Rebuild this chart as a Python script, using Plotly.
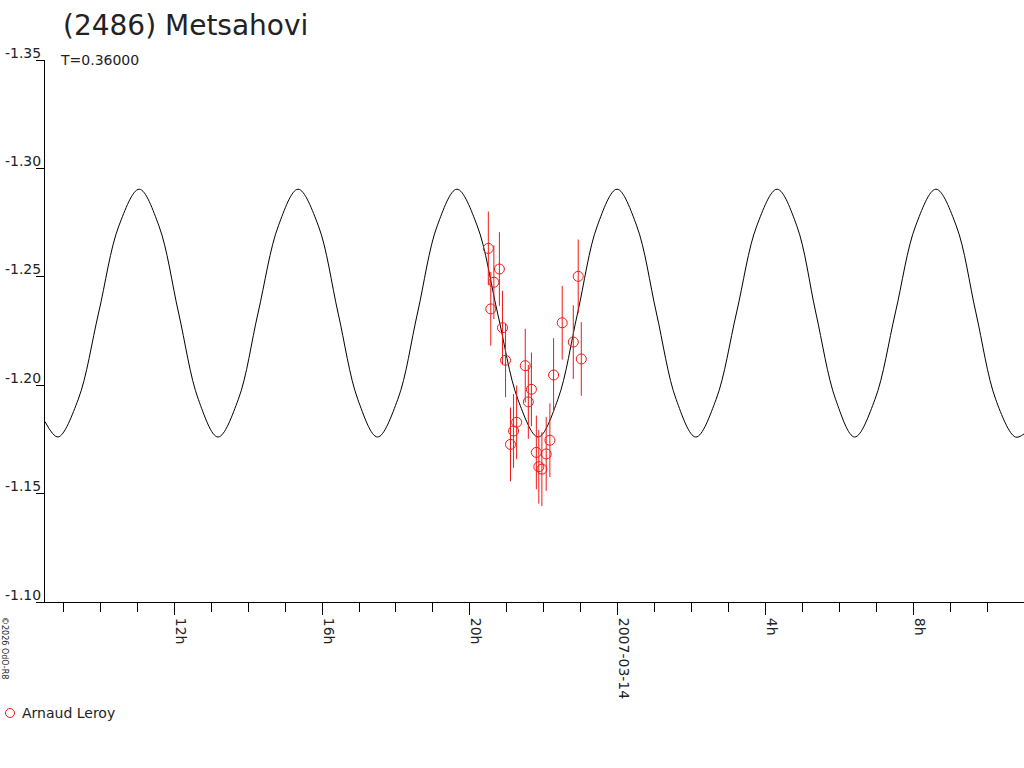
import plotly.graph_objects as go

# ---- observations (Arnaud Leroy) ----
obs_time = [
    "2007-03-13 20:30", "2007-03-13 20:34", "2007-03-13 20:39", "2007-03-13 20:48",
    "2007-03-13 20:53", "2007-03-13 20:58", "2007-03-13 21:06", "2007-03-13 21:11",
    "2007-03-13 21:16", "2007-03-13 21:30", "2007-03-13 21:35", "2007-03-13 21:40",
    "2007-03-13 21:48", "2007-03-13 21:52", "2007-03-13 21:57", "2007-03-13 22:04",
    "2007-03-13 22:10", "2007-03-13 22:16", "2007-03-13 22:30", "2007-03-13 22:48",
    "2007-03-13 22:56", "2007-03-13 23:01",
]
obs_mag = [
    -1.2631, -1.2352, -1.2475, -1.2536, -1.2265, -1.2115, -1.1727, -1.1789,
    -1.1829, -1.2090, -1.1923, -1.1981, -1.1690, -1.1624, -1.1613, -1.1683,
    -1.1746, -1.2047, -1.2288, -1.2199, -1.2502, -1.2121,
]
obs_err = [0.017] * len(obs_mag)

# ---- fitted light-curve, values ----
fit_time = [
    "2007-03-13 08:30", "2007-03-13 08:51", "2007-03-13 09:24", "2007-03-13 09:57",
    "2007-03-13 10:30", "2007-03-13 11:03", "2007-03-13 11:35", "2007-03-13 12:07",
    "2007-03-13 12:39", "2007-03-13 13:11", "2007-03-13 13:44", "2007-03-13 14:16",
    "2007-03-13 14:49", "2007-03-13 15:21", "2007-03-13 15:54", "2007-03-13 16:26",
    "2007-03-13 16:58", "2007-03-13 17:30", "2007-03-13 18:03", "2007-03-13 18:35",
    "2007-03-13 19:07", "2007-03-13 19:39", "2007-03-13 20:12", "2007-03-13 20:45",
    "2007-03-13 21:18", "2007-03-13 21:51", "2007-03-13 22:23", "2007-03-13 22:55",
    "2007-03-13 23:27", "2007-03-13 23:59", "2007-03-14 00:31", "2007-03-14 01:03",
    "2007-03-14 01:35", "2007-03-14 02:07", "2007-03-14 02:40", "2007-03-14 03:13",
    "2007-03-14 03:46", "2007-03-14 04:19", "2007-03-14 04:51", "2007-03-14 05:22",
    "2007-03-14 05:54", "2007-03-14 06:25", "2007-03-14 06:58", "2007-03-14 07:31",
    "2007-03-14 08:04", "2007-03-14 08:37", "2007-03-14 09:10", "2007-03-14 09:42",
    "2007-03-14 10:14", "2007-03-14 10:46", "2007-03-14 11:00",
]
fit_mag = [
    -1.1832, -1.1761, -1.1935, -1.2333, -1.2735, -1.2904, -1.2735, -1.2333,
    -1.1935, -1.1761, -1.1935, -1.2333, -1.2735, -1.2904, -1.2735, -1.2333,
    -1.1935, -1.1761, -1.1935, -1.2333, -1.2735, -1.2904, -1.2735, -1.2333,
    -1.1935, -1.1761, -1.1935, -1.2333, -1.2735, -1.2904, -1.2735, -1.2333,
    -1.1935, -1.1761, -1.1935, -1.2333, -1.2735, -1.2904, -1.2735, -1.2333,
    -1.1935, -1.1761, -1.1935, -1.2333, -1.2735, -1.2904, -1.2735, -1.2333,
    -1.1935, -1.1761, -1.1775,
]

# ---- axes ----
y_ticks = [-1.35, -1.30, -1.25, -1.20, -1.15, -1.10]
y_labels = ["-1.35", "-1.30", "-1.25", "-1.20", "-1.15", "-1.10"]
x_ticks = ["2007-03-13 12:00", "2007-03-13 16:00", "2007-03-13 20:00",
           "2007-03-14 00:00", "2007-03-14 04:00", "2007-03-14 08:00"]
x_labels = ["12h", "16h", "20h", "2007-03-14", "4h", "8h"]
x_minor = ["2007-03-13 %02d:00" % h for h in range(9, 24)] + \
          ["2007-03-14 %02d:00" % h for h in range(0, 11)]
x_range = ["2007-03-13 08:30", "2007-03-14 11:00"]

title_text = "(2486) Metsahovi"
subtitle_text = "T=0.36000"
observer = "Arnaud Leroy"
watermark = "©2026 OdO-R8"

FONT = "DejaVu Sans"
RED = "#f01818"

fig = go.Figure()
fig.add_trace(go.Scatter(
    x=fit_time, y=fit_mag, mode="lines",
    line=dict(color="black", width=1, shape="spline", smoothing=1.0),
    showlegend=False, hoverinfo="skip",
))
fig.add_trace(go.Scatter(
    x=obs_time, y=obs_mag, mode="markers", name=observer,
    marker=dict(symbol="circle-open", size=10, color=RED, line=dict(width=1, color=RED)),
    error_y=dict(type="data", array=obs_err, color=RED, thickness=1, width=0),
    showlegend=False,
))

fig.update_layout(
    width=1024, height=768,
    margin=dict(l=45, r=0, t=60, b=166),
    paper_bgcolor="white", plot_bgcolor="white",
    font=dict(family=FONT, color="#222222", size=14),
    xaxis=dict(
        type="date", range=x_range,
        tickmode="array", tickvals=x_ticks, ticktext=x_labels,
        tickangle=90, ticks="outside", ticklen=12, tickcolor="black", tickwidth=1,
        ticklabelshift=6,
        minor=dict(tickmode="array", tickvals=x_minor, ticks="outside", ticklen=9,
                   tickcolor="black", tickwidth=1, showgrid=False),
        showline=True, linecolor="black", linewidth=1,
        showgrid=False, zeroline=False,
        tickfont=dict(family=FONT, size=14, color="#222222"),
    ),
    yaxis=dict(
        range=[-1.10, -1.35],
        tickmode="array", tickvals=y_ticks, ticktext=y_labels,
        ticks="outside", ticklen=8, tickcolor="black", tickwidth=1,
        ticklabelposition="outside top", ticklabelshift=-3,
        showline=True, linecolor="black", linewidth=1,
        showgrid=False, zeroline=False,
        tickfont=dict(family=FONT, size=14, color="#222222"),
    ),
)

# title and subtitle
fig.add_annotation(text=title_text, xref="paper", yref="paper",
                   x=(61 - 45) / 979, y=(602 - 26) / 542, xanchor="left", yanchor="middle",
                   showarrow=False, font=dict(family=FONT, size=28, color="#222222"))
fig.add_annotation(text=subtitle_text, xref="paper", yref="paper",
                   x=(58 - 45) / 979, y=(602 - 60) / 542, xanchor="left", yanchor="middle",
                   showarrow=False, font=dict(family=FONT, size=14, color="#222222"))

# legend (symbol + name)
lx, ly = (10 - 45) / 979, (602 - 713) / 542
fig.add_shape(type="circle", xref="paper", yref="paper", xsizemode="pixel", ysizemode="pixel",
              xanchor=lx, yanchor=ly, x0=-4.5, x1=4.5, y0=-4.5, y1=4.5,
              line=dict(color=RED, width=1))
fig.add_annotation(text=observer, xref="paper", yref="paper",
                   x=(20 - 45) / 979, y=ly, xanchor="left", yanchor="middle",
                   showarrow=False, font=dict(family=FONT, size=14, color="#222222"))

# watermark
fig.add_annotation(text=watermark, xref="paper", yref="paper",
                   x=(5 - 45) / 979, y=(602 - 648) / 542, xanchor="center", yanchor="middle",
                   textangle=90, showarrow=False, font=dict(family=FONT, size=8, color="#222222"))

fig.write_html("out.html", config={"displayModeBar": False},
               post_script="document.body.style.margin='0px';")
